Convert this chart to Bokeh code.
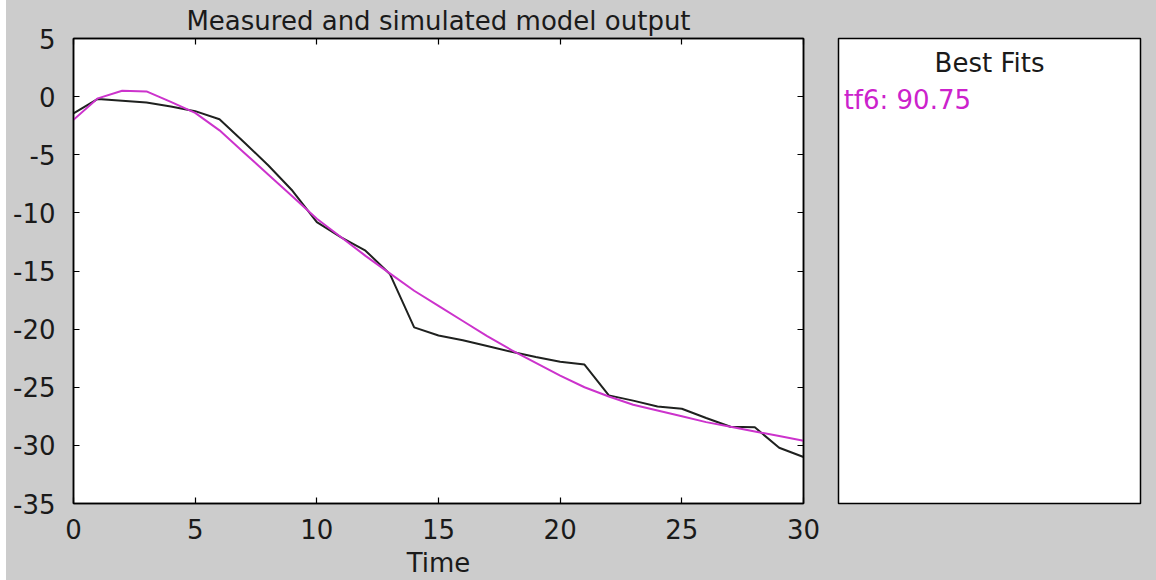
from bokeh.plotting import figure
from bokeh.models import Range1d, LinearAxis, FixedTicker, Spacer
from bokeh.layouts import row
from bokeh.embed import file_html
from bokeh.resources import INLINE
from bokeh.core.properties import value

# ---- data ----
time = list(range(31))
measured = [-1.45, -0.2, -0.35, -0.5, -0.85, -1.25, -1.95, -3.9, -5.9, -8.1,
            -10.8, -12.1, -13.25, -15.25, -19.85, -20.55, -20.95, -21.45, -21.95, -22.4,
            -22.8, -23.05, -25.7, -26.15, -26.65, -26.85, -27.65, -28.4, -28.45, -30.2,
            -31.0]
simulated = [-2.0, -0.15, 0.5, 0.45, -0.45, -1.4, -2.9, -4.8, -6.7, -8.6,
             -10.5, -12.1, -13.7, -15.2, -16.7, -18.0, -19.3, -20.6, -21.8, -22.9,
             -24.0, -25.0, -25.8, -26.5, -27.0, -27.5, -28.0, -28.4, -28.8, -29.2,
             -29.6]
x_ticks = [0, 5, 10, 15, 20, 25, 30]
y_ticks = [5, 0, -5, -10, -15, -20, -25, -30, -35]
fit_models = ["tf6"]
fit_values = [90.75]
title_text = "Measured and simulated model output"
x_label = "Time"
legend_title = "Best Fits"

BG = "#cccccc"
FONT = "DejaVu Sans"
FS = "26px"
TXT = "#1a1a1a"


def style_axis(ax, ticks, show_labels):
    ax.ticker = FixedTicker(ticks=ticks)
    ax.major_tick_in = 6
    ax.major_tick_out = 0
    ax.minor_tick_in = 0
    ax.minor_tick_out = 0
    ax.axis_line_color = "black"
    ax.axis_line_width = 1.5
    ax.major_tick_line_color = "black"
    ax.major_tick_line_width = 1.2
    if show_labels:
        ax.major_label_overrides = {t: str(t) for t in ticks}
        ax.major_label_text_font = FONT
        ax.major_label_text_font_size = FS
        ax.major_label_text_color = TXT
    else:
        ax.major_label_overrides = {t: "" for t in ticks}
        ax.major_label_text_font_size = "0px"
        ax.major_label_standoff = 0


p1 = figure(width=814, height=580, x_range=Range1d(0, 30), y_range=Range1d(-35, 5),
            output_backend="svg", toolbar_location=None,
            min_border_left=67, min_border_right=17, min_border_top=38, min_border_bottom=77,
            background_fill_color="white", border_fill_color=BG,
            outline_line_color="black", outline_line_width=1.5)
p1.grid.visible = False

style_axis(p1.xaxis[0], x_ticks, True)
p1.xaxis[0].major_label_standoff = 15
p1.xaxis[0].axis_label = x_label
p1.xaxis[0].axis_label_text_font = FONT
p1.xaxis[0].axis_label_text_font_size = FS
p1.xaxis[0].axis_label_text_font_style = "normal"
p1.xaxis[0].axis_label_text_color = TXT
p1.xaxis[0].axis_label_standoff = 6

style_axis(p1.yaxis[0], y_ticks, True)
p1.yaxis[0].major_label_standoff = 18

top_ax = LinearAxis()
style_axis(top_ax, x_ticks, False)
p1.add_layout(top_ax, "above")
right_ax = LinearAxis()
style_axis(right_ax, y_ticks, False)
p1.add_layout(right_ax, "right")

p1.title.text = title_text
p1.title.align = "center"
p1.title.text_font = FONT
p1.title.text_font_size = FS
p1.title.text_font_style = "normal"
p1.title.text_color = TXT
p1.title.standoff = 5
p1.title.offset = 0

p1.line(time, measured, line_color="#1f211f", line_width=2)
p1.line(time, simulated, line_color="#cc33cc", line_width=2)

p2 = figure(width=336, height=580, x_range=Range1d(0, 1), y_range=Range1d(0, 1),
            output_backend="svg", toolbar_location=None,
            x_axis_location=None, y_axis_location=None,
            min_border_left=18, min_border_right=16, min_border_top=38, min_border_bottom=77,
            background_fill_color="white", border_fill_color=BG,
            outline_line_color="black", outline_line_width=1.5)
p2.grid.visible = False
p2.text(x=[0.5], y=[0.948], text=[legend_title], text_align="center", text_baseline="middle",
        text_font=value(FONT), text_font_size=FS, text_color=TXT)
p2.text(x=[0.017], y=[0.867], text=[f"{m}: {v:.2f}" for m, v in zip(fit_models, fit_values)],
        text_align="left", text_baseline="middle",
        text_font=value(FONT), text_font_size=FS, text_color="#cc22cc")

panels = row(p1, p2, styles={"background-color": BG})
layout = row(Spacer(width=6, height=580), panels)

open("out.html", "w").write(file_html(layout, INLINE))
